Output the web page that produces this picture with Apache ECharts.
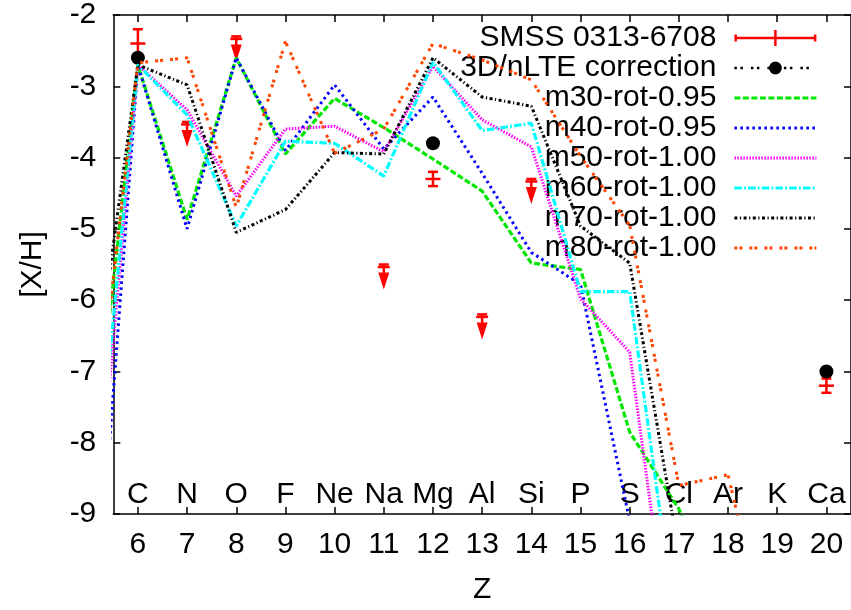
<!DOCTYPE html>
<html><head><meta charset="utf-8">
<script src="https://cdn.jsdelivr.net/npm/echarts@6/dist/echarts.min.js"></script>
<style>html,body{margin:0;padding:0;background:#fff}#c{width:851px;height:610px}</style>
</head><body><div id="c"></div>
<script>
// ---- data ----
const zTicks   = [6, 7, 8, 9, 10, 11, 12, 13, 14, 15, 16, 17, 18, 19, 20];
const elements = ['C','N','O','F','Ne','Na','Mg','Al','Si','P','S','Cl','Ar','K','Ca'];

const modelZ = [5, 6, 7, 8, 9, 10, 11, 12, 13, 14, 15, 16, 17, 18, 19];
const m30 = [-8.80, -2.70, -4.87, -2.60, -3.95, -3.17, -3.58, -4.02, -4.47, -5.48, -5.57, -7.85, -8.93, -10.5, null];
const m40 = [-11.90, -2.70, -5.00, -2.60, -3.90, -2.98, -3.88, -3.15, -4.22, -5.33, -5.78, -9.10, -12.0, null, null];
const m50 = [-10.45, -2.70, -3.33, -4.54, -3.60, -3.56, -3.92, -2.72, -3.47, -3.85, -5.98, -6.73, -11.8, null, null];
const m60 = [-9.85, -2.70, -3.40, -4.96, -3.77, -3.80, -4.26, -2.66, -3.62, -3.52, -5.88, -5.88, -10.9, null, null];
const m70 = [-7.75, -2.70, -2.98, -5.05, -4.73, -3.93, -3.95, -2.60, -3.15, -3.28, -4.96, -5.48, -9.55, null, null];
const m80 = [-8.70, -2.67, -2.60, -4.70, -2.37, -3.94, -3.60, -2.40, -2.63, -2.91, -3.98, -4.95, -8.60, -8.45, -11.4];

// SMSS 0313-6708 measurements (upper = 1 means upper limit)
const smssZ     = [6, 7, 8, 11, 12, 13, 14, 20];
const smssXH    = [-2.4, -3.5, -2.3, -5.5, -4.3, -6.2, -4.3, -7.2];
const smssErr   = [0.2, 0, 0, 0, 0.1, 0, 0, 0.1];
const smssUpper = [0, 1, 1, 1, 0, 1, 1, 0];

// 3D/nLTE corrected values
const corrZ  = [6, 12, 20];
const corrXH = [-2.6, -3.8, -7.0];

// ---- chart ----
const FONT = "'Liberation Sans', Arial, sans-serif";
const ELEM_LABEL_Y = -8.73;

const chart = echarts.init(document.getElementById('c'), null, {renderer: 'canvas'});

function modelSeries(name, vals, color, dash, width) {
  return {
    name, type: 'line', symbol: 'none', animation: false, z: 3,
    data: modelZ.map((z, i) => [z, vals[i]]).filter(d => d[1] !== null),
    lineStyle: {color, type: dash, width, cap: 'butt'},
    itemStyle: {color},
    emphasis: {disabled: true}
  };
}

const corrData = [];
corrZ.forEach((z, i) => {
  if (i > 0) corrData.push([(z + corrZ[i - 1]) / 2, '-']);
  corrData.push([z, corrXH[i]]);
});

const redIcon = 'path://M0,6.75L82,6.75L82,9.25L0,9.25Z M0,4.5L2.5,4.5L2.5,11.5L0,11.5Z M79.5,4.5L82,4.5L82,11.5L79.5,11.5Z M39.75,0L42.25,0L42.25,16L39.75,16Z';

const axisCommon = {
  axisLine: {show: true, onZero: false, lineStyle: {color: '#000', width: 1.5}},
  splitLine: {show: false}
};

const modelNames = ['m30-rot-0.95', 'm40-rot-0.95', 'm50-rot-1.00', 'm60-rot-1.00', 'm70-rot-1.00', 'm80-rot-1.00'];
const modelWidths = [3.2, 3, 3, 3.2, 3, 3];

const option = {
  animation: false,
  backgroundColor: '#fff',
  grid: {left: 113.3, top: 14.7, bottom: 94, right: -3, containLabel: false},
  xAxis: [
    Object.assign({
      type: 'value', min: 5.5, max: 20.5, position: 'bottom',
      axisTick: {show: true, inside: true, length: 7, customValues: zTicks, lineStyle: {color: '#000', width: 1.5}},
      axisLabel: {customValues: zTicks, margin: 16, fontSize: 30, fontFamily: FONT, color: '#000'},
      name: 'Z', nameLocation: 'middle', nameGap: 61,
      nameTextStyle: {fontSize: 30, fontFamily: FONT, color: '#000'}
    }, axisCommon),
    Object.assign({
      type: 'value', min: 5.5, max: 20.5, position: 'top',
      axisTick: {show: true, inside: true, length: 7, customValues: zTicks, lineStyle: {color: '#000', width: 1.5}},
      axisLabel: {show: false}
    }, axisCommon)
  ],
  yAxis: [
    Object.assign({
      type: 'value', min: -9, max: -2, interval: 1, position: 'left',
      axisTick: {show: true, inside: true, length: 7, lineStyle: {color: '#000', width: 1.5}},
      axisLabel: {margin: 17, fontSize: 30, fontFamily: FONT, color: '#000'},
      name: '[X/H]', nameLocation: 'middle', nameGap: 66, nameRotate: 90,
      nameTextStyle: {fontSize: 30, fontFamily: FONT, color: '#000'}
    }, axisCommon),
    Object.assign({
      type: 'value', min: -9, max: -2, interval: 1, position: 'right',
      axisTick: {show: true, inside: true, length: 7, lineStyle: {color: '#000', width: 1.5}},
      axisLabel: {show: false}
    }, axisCommon)
  ],
  legend: {
    orient: 'vertical', right: 33, top: 23, padding: 0, itemGap: 0,
    itemWidth: 82, itemHeight: 16, align: 'right', selectedMode: false, z: 1,
    textStyle: {fontSize: 30, fontFamily: FONT, color: '#000', lineHeight: 30, padding: [0, 13, 0, 0]},
    lineStyle: {width: 3},
    data: [
      {name: 'SMSS 0313-6708', icon: redIcon, itemStyle: {color: '#ff0000'}},
      {name: '3D/nLTE correction', lineStyle: {width: 2.5}}
    ].concat(modelNames.map((n, i) => ({name: n, itemStyle: {opacity: 0}, lineStyle: {width: modelWidths[i]}})))
  },
  series: [
    {
      type: 'scatter', z: 1, silent: true, symbolSize: 1,
      itemStyle: {color: 'rgba(255,255,255,0)'},
      data: zTicks.map((z, i) => ({name: elements[i], value: [z, ELEM_LABEL_Y]})),
      label: {show: true, position: 'inside', formatter: '{b}', fontSize: 30, fontFamily: FONT,
              color: '#000', opacity: 1, textBorderWidth: 0, textShadowBlur: 0},
      emphasis: {disabled: true}
    },
    {
      name: 'SMSS 0313-6708', type: 'custom', z: 2,
      data: smssZ.map((z, i) => [z, smssXH[i], smssErr[i], smssUpper[i]]),
      encode: {x: 0, y: 1},
      itemStyle: {color: '#ff0000'},
      renderItem: function (params, api) {
        const z = api.value(0), v = api.value(1), e = api.value(2), up = api.value(3);
        const p = api.coord([z, v]);
        const st = {stroke: '#ff0000', lineWidth: 2.5, fill: null};
        const ch = [];
        const ln = (x1, y1, x2, y2) => ch.push({type: 'line', shape: {x1, y1, x2, y2}, style: st});
        if (up) {
          ln(p[0] - 5, p[1], p[0] + 5, p[1]);
          ln(p[0] - 6, p[1] + 2.5, p[0] + 6, p[1] + 2.5);
          ln(p[0], p[1], p[0], p[1] + 10);
          ch.push({type: 'polygon', shape: {points: [[p[0] - 5.5, p[1] + 8], [p[0] + 5.5, p[1] + 8], [p[0], p[1] + 25]]}, style: {fill: '#ff0000'}});
        } else {
          const hi = api.coord([z, v + e]), lo = api.coord([z, v - e]);
          ln(p[0], hi[1], p[0], lo[1]);
          ln(p[0] - 5, hi[1], p[0] + 5, hi[1]);
          ln(p[0] - 5, lo[1], p[0] + 5, lo[1]);
          ln(p[0] - 7.5, p[1], p[0] + 7.5, p[1]);
        }
        return {type: 'group', children: ch};
      }
    },
    {
      name: '3D/nLTE correction', type: 'line', z: 2, data: corrData,
      symbol: 'circle', symbolSize: 14, showSymbol: true, connectNulls: false,
      itemStyle: {color: '#000'},
      lineStyle: {color: '#000', type: [2.5, 3.5, 2.5, 8], width: 2.5},
      emphasis: {disabled: true}
    },
    modelSeries(modelNames[0], m30, '#00e600', [6, 2.5], modelWidths[0]),
    modelSeries(modelNames[1], m40, '#0000ff', [2.5, 3.5], modelWidths[1]),
    modelSeries(modelNames[2], m50, '#ff00ff', [1.5, 1.5], modelWidths[2]),
    modelSeries(modelNames[3], m60, '#00ffff', [7.5, 2.2, 1.8, 2.2], modelWidths[3]),
    modelSeries(modelNames[4], m70, '#000000', [3, 2.5, 1.2, 2.5], modelWidths[4]),
    modelSeries(modelNames[5], m80, '#ff4500', [3, 2, 3, 7], modelWidths[5])
  ]
};
chart.setOption(option);
</script>
</body></html>
